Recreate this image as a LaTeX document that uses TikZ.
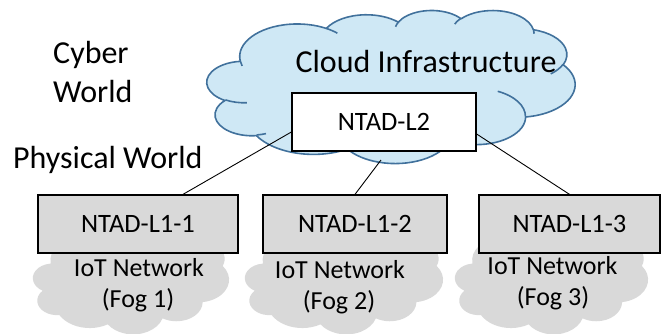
\documentclass[tikz,border=0pt]{standalone}
\usepackage{fontspec}
\setmainfont{Carlito}
\definecolor{cloudfill}{RGB}{207,232,245}
\definecolor{clouddraw}{RGB}{65,113,156}
\definecolor{fogfill}{RGB}{217,217,217}
\definecolor{boxfill}{RGB}{217,217,217}
% convert a DrawingML arc (visual angles in path space) into parametric TikZ angles
\newcommand\ooprep[5]{%
  \pgfmathsetmacro\ooA{atan2((#2)*sin(#4),(#3)*cos(#4))}%
  \pgfmathsetmacro\ooB{atan2((#2)*sin((#4)+(#5)),(#3)*cos((#4)+(#5)))}%
  \pgfmathsetmacro\ooD{mod(\ooB-\ooA+720,360)}%
  \pgfmathsetmacro\ooE{\ooA+\ooD}%
  \expandafter\xdef\csname oo#1S\endcsname{\ooA}%
  \expandafter\xdef\csname oo#1E\endcsname{\ooE}%
}
\newcommand\ooouter[1]{% #1 path options
  \ooprep{a}{67.53}{91.90}{-190.4875}{123.7805}%
  \ooprep{b}{53.33}{72.67}{-144.1024}{89.9452}%
  \ooprep{c}{43.65}{59.45}{-145.8079}{99.7230}%
  \ooprep{d}{48.57}{65.95}{-130.9861}{117.2417}%
  \ooprep{e}{53.33}{72.73}{-78.7089}{109.0269}%
  \ooprep{f}{67.75}{92.20}{-46.2673}{130.2690}%
  \ooprep{g}{57.85}{78.67}{0.6250}{114.0333}%
  \ooprep{h}{67.52}{92.15}{22.4516}{115.1726}%
  \ooprep{i}{77.20}{105.43}{66.2426}{75.7110}%
  \ooprep{j}{43.60}{59.18}{-274.9421}{146.7356}%
  \ooprep{k}{43.45}{59.45}{-246.8285}{152.5189}%
  \path[#1] (39.00,143.70)
    arc[x radius=67.53, y radius=91.90, start angle=\ooaS, end angle=\ooaE]
    arc[x radius=53.33, y radius=72.67, start angle=\oobS, end angle=\oobE]
    arc[x radius=43.65, y radius=59.45, start angle=\oocS, end angle=\oocE]
    arc[x radius=48.57, y radius=65.95, start angle=\oodS, end angle=\oodE]
    arc[x radius=53.33, y radius=72.73, start angle=\ooeS, end angle=\ooeE]
    arc[x radius=67.75, y radius=92.20, start angle=\oofS, end angle=\oofE]
    arc[x radius=57.85, y radius=78.67, start angle=\oogS, end angle=\oogE]
    arc[x radius=67.52, y radius=92.15, start angle=\oohS, end angle=\oohE]
    arc[x radius=77.20, y radius=105.43, start angle=\ooiS, end angle=\ooiE]
    arc[x radius=43.60, y radius=59.18, start angle=\oojS, end angle=\oojE]
    arc[x radius=43.45, y radius=59.45, start angle=\ookS, end angle=\ookE]
    -- cycle;
}
\newcommand\ooinner[1]{% #1 path options
  \ooprep{A}{43.45}{59.45}{86.742}{26.4295}%
  \ooprep{B}{43.60}{59.18}{73.6105}{11.4475}%
  \ooprep{C}{67.52}{92.15}{137.6242}{14.0811}%
  \ooprep{D}{67.52}{92.15}{6.4533}{15.9984}%
  \ooprep{E}{57.85}{78.67}{-70.2924}{70.9174}%
  \ooprep{F}{53.33}{72.73}{30.3180}{27.7515}%
  \ooprep{G}{48.57}{65.95}{-13.7443}{14.8622}%
  \ooprep{H}{48.57}{65.95}{-149.1815}{18.197}%
  \ooprep{I}{43.65}{59.45}{-163.4943}{17.6864}%
  \ooprep{J}{67.53}{91.90}{-66.7070}{12.3194}%
  \ooprep{K}{67.53}{91.90}{157.6544}{11.8582}%
  \path[#1]
    (46.93,261.77) arc[x radius=43.45, y radius=59.45, start angle=\ooAS, end angle=\ooAE]
    (69.28,348.99) arc[x radius=43.60, y radius=59.18, start angle=\ooBS, end angle=\ooBE]
    (164.78,390.90) arc[x radius=67.52, y radius=92.15, start angle=\ooCS, end angle=\ooCE]
    (288.27,347.51) arc[x radius=67.52, y radius=92.15, start angle=\ooDS, end angle=\ooDE]
    (341.29,229.54) arc[x radius=57.85, y radius=78.67, start angle=\ooES, end angle=\ooEE]
    (417.98,153.54) arc[x radius=53.33, y radius=72.73, start angle=\ooFS, end angle=\ooFE]
    (383.24,54.26) arc[x radius=48.57, y radius=65.95, start angle=\ooGS, end angle=\ooGE]
    (290.78,39.52) arc[x radius=48.57, y radius=65.95, start angle=\ooHS, end angle=\ooHE]
    (221.41,47.20) arc[x radius=43.65, y radius=59.45, start angle=\ooIS, end angle=\ooIE]
    (140.00,51.92) arc[x radius=67.53, y radius=91.90, start angle=\ooJS, end angle=\ooJE]
    (41.27,157.89) arc[x radius=67.53, y radius=91.90, start angle=\ooKS, end angle=\ooKE];
}
\begin{document}
\begin{tikzpicture}[x=1pt,y=-1pt,
  boxnode/.style={draw=black, line width=1.3pt, inner sep=0pt, minimum height=58pt, font=\fontsize{26.5}{32}\selectfont},
  lbl/.style={font=\fontsize{32}{39}\selectfont, inner sep=0pt},
  foglbl/.style={font=\fontsize{26}{31.7}\selectfont, inner sep=0pt, anchor=base},
  conn/.style={draw=black, line width=0.9pt},
  cloudline/.style={draw=clouddraw, line width=1.6pt, line join=round}]
\useasboundingbox (0,0) rectangle (667,333);
% fog clouds
\begin{scope}[xshift=33pt, yshift=-228pt, x=0.4537pt, y=-0.24537pt]
  \ooouter{fill=fogfill}
\end{scope}
\begin{scope}[xshift=245pt, yshift=-228pt, x=0.4583pt, y=-0.24537pt]
  \ooouter{fill=fogfill}
\end{scope}
\begin{scope}[xshift=455pt, yshift=-228pt, x=0.4468pt, y=-0.24537pt]
  \ooouter{fill=fogfill}
\end{scope}
% cloud infrastructure
\begin{scope}[xshift=207pt, yshift=-10pt, x=0.85185pt, y=-0.35417pt]
  \ooouter{fill=cloudfill, cloudline}
  \ooinner{cloudline}
\end{scope}
\coordinate (cb) at (381,160);
\node[boxnode, fill=white, minimum width=184pt] (l2) at (384,122) {NTAD-L2};
\node[boxnode, fill=boxfill, minimum width=200pt] (l11) at (138,224) {NTAD-L1-1};
\node[boxnode, fill=boxfill, minimum width=184pt] (l12) at (355,224) {NTAD-L1-2};
\node[boxnode, fill=boxfill, minimum width=181pt] (l13) at (569.5,224) {NTAD-L1-3};
\draw[conn] ([xshift=45pt]l11.north) -- ([yshift=-10pt]l2.west);
\draw[conn] (l12.north) -- (cb);
\draw[conn] (l13.north) -- ([yshift=-12pt]l2.east);
% texts
\node[lbl, anchor=base] (ci) at (426,72) {Cloud Infrastructure};
\node[lbl, anchor=base west] (cy) at (53,63) {Cyber};
\node[lbl, anchor=base west] (cw) at (53,102) {World};
\node[lbl, anchor=base west] (pw) at (13,168) {Physical World};
\node[foglbl] (t1a) at (139,276) {IoT Network};
\node[foglbl] (t1b) at (138,307) {(Fog 1)};
\node[foglbl] (t2a) at (340,278) {IoT Network};
\node[foglbl] (t2b) at (339,309) {(Fog 2)};
\node[foglbl] (t3a) at (552.5,274) {IoT Network};
\node[foglbl] (t3b) at (553,305) {(Fog 3)};
\end{tikzpicture}
\end{document}
